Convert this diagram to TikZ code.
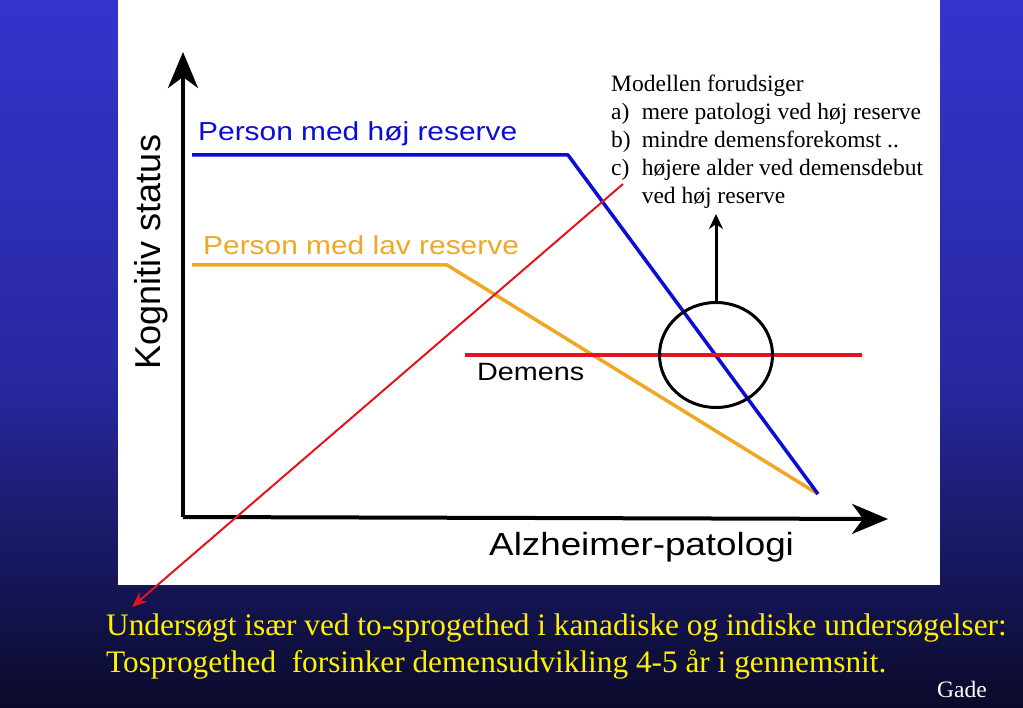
\documentclass[tikz,border=0pt]{standalone}
\usepackage{fontspec}
\setmainfont{Liberation Serif}
\newfontfamily\arialfont{Liberation Sans}
\usetikzlibrary{arrows.meta,shapes.geometric}
\definecolor{slidetop}{RGB}{52,52,205}
\definecolor{slidemid}{RGB}{40,40,160}
\definecolor{slidebot}{RGB}{10,10,42}
\definecolor{highblue}{RGB}{12,12,215}
\definecolor{lowgold}{RGB}{238,168,38}
\definecolor{demred}{RGB}{228,20,30}
\newcommand{\wide}[1]{\scalebox{1.15}[1]{#1}}

\begin{document}
\begin{tikzpicture}[x=1pt,y=-1pt,
    curve/.style={line width=3.5pt},
    axis/.style={line width=4pt, -{Stealth[length=36pt,width=30pt,inset=11pt]}},
    sanslabel/.style={inner sep=0pt, anchor=base west, font=\arialfont\fontsize{26}{30}\selectfont},
    yellowtext/.style={inner sep=0pt, anchor=base west, text=yellow, font=\fontsize{31.3}{37}\selectfont}]
  % Background
  \useasboundingbox (0,0) rectangle (1023,708);
  \shade[top color=slidetop, bottom color=slidemid] (0,0) rectangle (1023,381);
  \shade[top color=slidemid, bottom color=slidebot] (0,380) rectangle (1023,708);
  \fill[white] (118,0) rectangle (940,585);

  % Axes
  \coordinate (origin) at (183,517);
  \coordinate (ytip) at (183,52);
  \coordinate (xtip) at (888,519);
  \draw[axis] (origin) -- (ytip);
  \draw[axis] (origin) -- (xtip);
  \node[rotate=90, anchor=base, inner sep=0pt, font=\arialfont\fontsize{36}{40}\selectfont] (ylab) at (160,252) {Kognitiv status};
  \node[sanslabel, font=\arialfont\fontsize{32}{36}\selectfont] (xlab) at (489,555) {\wide{Alzheimer-patologi}};

  % Curves
  \coordinate (h1) at (192,155);
  \coordinate (h2) at (568,155);
  \coordinate (l1) at (192,265);
  \coordinate (l2) at (447,265);
  \coordinate (end) at (818,494);
  \coordinate (d1) at (465,355);
  \coordinate (d2) at (862,355);
  \draw[curve, lowgold, line join=round] (l1) -- (l2) -- (end);
  \draw[curve, highblue, line join=round] (h1) -- (h2) -- (end);
  \draw[curve, demred] (d1) -- (d2);
  \node[sanslabel, text=highblue] (high) at (198,141) {\wide{Person med høj reserve}};
  \node[sanslabel, text=lowgold] (low) at (203,255) {\wide{Person med lav reserve}};
  \node[sanslabel, font=\arialfont\fontsize{25}{30}\selectfont] (dem) at (477,381) {\wide{Demens}};

  % Ring and model text
  \node[draw, ellipse, line width=3pt, minimum width=113pt, minimum height=105pt, inner sep=0pt] (ring) at (716,355) {};
  \node[inner sep=0pt, anchor=base west, font=\fontsize{23.5}{28}\selectfont] (model) at (611,92)
    {\begin{tabular}[t]{@{}l@{\hspace{11pt}}l@{}}
      \multicolumn{2}{@{}l}{Modellen forudsiger}\\
      a) & mere patologi ved høj reserve\\
      b) & mindre demensforekomst ..\\
      c) & højere alder ved demensdebut\\
         & ved høj reserve
    \end{tabular}};
  \coordinate (up) at (716,214);
  \draw[line width=3pt, -{Stealth[length=15pt,width=14pt]}] (ring.north) -- (up);

  % Bottom note
  \coordinate (rstart) at (623,184);
  \coordinate (rend) at (132,607);
  \draw[demred, line width=2pt, -{Stealth[length=15pt,width=12pt]}] (rstart) -- (rend);
  \node[yellowtext] (note1) at (106,635) {Undersøgt især ved to-sprogethed i kanadiske og indiske undersøgelser:};
  \node[yellowtext] (note2) at (106,672) {Tosprogethed~ forsinker demensudvikling 4-5 år i gennemsnit.};
  \node[inner sep=0pt, anchor=base west, text=white, font=\fontsize{23.5}{26}\selectfont] (gade) at (937,697) {Gade};
\end{tikzpicture}
\end{document}
